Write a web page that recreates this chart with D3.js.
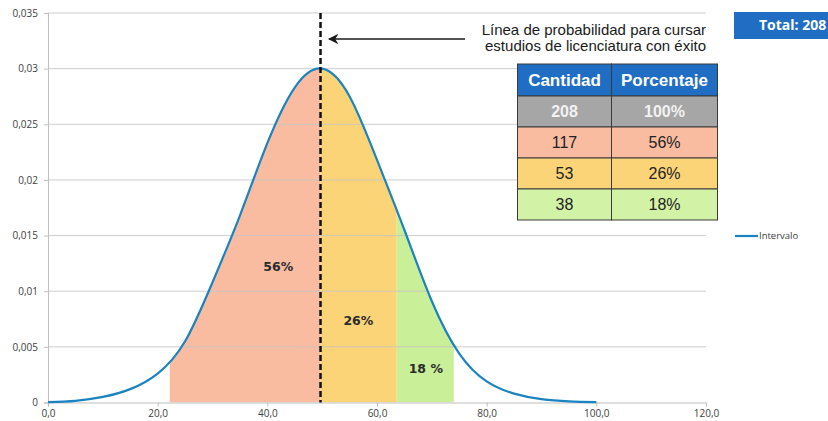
<!DOCTYPE html>
<html>
<head>
<meta charset="utf-8">
<script src="https://cdn.jsdelivr.net/npm/d3@7"></script>
<style>
  body { margin: 0; background: #fff; }
  svg { display: block; }
  .axis text { font-family: "Open Sans", sans-serif; font-size: 10px; fill: #404040; }
  .note { font-family: "Liberation Sans", Arial, sans-serif; font-size: 15px; fill: #1a1a1a; }
</style>
</head>
<body>
<div id="chart"></div>
<script>
// curve (x, density)
var xs      = [0, 5, 10, 15, 20, 25, 30, 35, 40, 45, 50, 55, 60, 65, 70, 75, 80, 85, 90, 95, 100]
var density = [0.00003, 0.00015, 0.0005, 0.0012, 0.0026, 0.0055, 0.0108, 0.0168, 0.0233, 0.0283, 0.0300,
               0.0275, 0.0218, 0.0155, 0.0091, 0.0044, 0.0019, 0.0008, 0.0003, 0.0001, 0.00003]

var probLine = 49.7
var bands = [
  {from: 22.2, to: 49.7, color: '#fabca0', label: '56%'},
  {from: 49.7, to: 63.6, color: '#fcd478', label: '26%'},
  {from: 63.6, to: 74.0, color: '#c9ef99', label: '18 %'}
]
// where the band labels sit, in data units
var labelAt = [[42.0, 0.0122], [56.6, 0.0074], [68.9, 0.0030]]

var xTicks = [0, 20, 40, 60, 80, 100, 120]
var yTicks = [0, 0.005, 0.01, 0.015, 0.02, 0.025, 0.03, 0.035]

var tableHead = ['Cantidad', 'Porcentaje']
var tableRows = [['208', '100%'], ['117', '56%'], ['53', '26%'], ['38', '18%']]
var rowColors = ['#a6a6a6', '#fabca0', '#fcd478', '#d2f2a6']

var es = d3.formatLocale({decimal: ',', thousands: '.', grouping: [3], currency: ['', '€']})

var W = 828, H = 421
var m = {left: 48, right: 122, top: 13, bottom: 18.5}
var svg = d3.select('#chart').append('svg').attr('width', W).attr('height', H)
var g = svg.append('g').attr('transform', 'translate(' + m.left + ',' + m.top + ')')
var w = W - m.left - m.right, h = H - m.top - m.bottom

var x = d3.scaleLinear().domain([0, 120]).range([0, w])
var y = d3.scaleLinear().domain([0, 0.035]).range([h, 0])

var pts = xs.map(function(d, i){ return [d, density[i]] })
var curve = d3.curveNatural
var line = d3.line().x(function(d){ return x(d[0]) }).y(function(d){ return y(d[1]) }).curve(curve)
var area = d3.area().x(function(d){ return x(d[0]) }).y0(h).y1(function(d){ return y(d[1]) }).curve(curve)

// shaded bands under the curve
bands.forEach(function(b, i){
  g.append('clipPath').attr('id', 'band' + i)
    .append('rect').attr('x', x(b.from)).attr('width', x(b.to) - x(b.from)).attr('y', 0).attr('height', h)
  g.append('path').attr('d', area(pts)).attr('fill', b.color).attr('clip-path', 'url(#band' + i + ')')
})

// gridlines over the fills
g.selectAll('.grid').data(yTicks.slice(1)).enter().append('line')
  .attr('x1', 0).attr('x2', w)
  .attr('y1', function(d){ return y(d) }).attr('y2', function(d){ return y(d) })
  .attr('stroke', '#c4c4c4').attr('stroke-opacity', 0.85).attr('stroke-width', 1)

var yAxis = g.append('g').attr('class', 'axis')
  .call(d3.axisLeft(y).tickValues(yTicks).tickSize(4).tickPadding(6).tickFormat(es.format(',.3~f')))
var xAxis = g.append('g').attr('class', 'axis').attr('transform', 'translate(0,' + h + ')')
  .call(d3.axisBottom(x).tickValues(xTicks).tickSize(4).tickPadding(3).tickFormat(es.format('.1f')))
g.selectAll('.axis .domain, .axis .tick line').attr('stroke', '#bfbfbf')

g.append('path').attr('d', line(pts)).attr('fill', 'none').attr('stroke', '#1b84c0').attr('stroke-width', 2.2)

bands.forEach(function(b, i){
  g.append('text').attr('x', x(labelAt[i][0])).attr('y', y(labelAt[i][1])).attr('dy', '0.35em')
    .attr('text-anchor', 'middle')
    .style('font-family', '"DejaVu Sans", sans-serif').style('font-size', '12.5px').style('font-weight', 'bold')
    .style('fill', '#2b2b2b').text(b.label)
})

// dashed probability line
g.append('line').attr('x1', x(probLine)).attr('x2', x(probLine)).attr('y1', 0).attr('y2', h)
  .attr('stroke', '#111').attr('stroke-width', 2.5).attr('stroke-dasharray', '6,3')

// arrow + note
svg.append('defs').append('marker').attr('id', 'head')
  .attr('viewBox', '0 0 10 10').attr('refX', 9).attr('refY', 5)
  .attr('markerWidth', 7).attr('markerHeight', 7).attr('orient', 'auto')
  .append('path').attr('d', 'M10,5L0,0L3,5L0,10Z').attr('fill', '#1a1a1a')
g.append('line').attr('x1', 417).attr('x2', 281).attr('y1', 26).attr('y2', 26)
  .attr('stroke', '#1a1a1a').attr('stroke-width', 1.5).attr('marker-end', 'url(#head)')
var note = g.append('text').attr('class', 'note').attr('text-anchor', 'end').attr('x', w)
note.append('tspan').attr('x', w).attr('y', 21.5).text('Línea de probabilidad para cursar')
note.append('tspan').attr('x', w).attr('y', 37.5).text('estudios de licenciatura con éxito')

// table
var tx = 517.5, tw = [94, 106], rh = [32, 31, 31, 31, 31], ty = 64
var tbl = svg.append('g')
var all = [tableHead].concat(tableRows)
var yy = ty
all.forEach(function(r, ri){
  var xx = tx
  r.forEach(function(c, ci){
    tbl.append('rect').attr('x', xx).attr('y', yy).attr('width', tw[ci]).attr('height', rh[ri])
      .attr('fill', ri == 0 ? '#1f6ec4' : rowColors[ri - 1]).attr('stroke', '#3a3a3a').attr('stroke-width', 1)
    tbl.append('text').attr('x', xx + tw[ci] / 2).attr('y', yy + rh[ri] / 2).attr('dy', '0.36em')
      .attr('text-anchor', 'middle')
      .style('font-family', '"Liberation Sans", Arial, sans-serif')
      .style('font-size', ri == 0 ? '17px' : '16px')
      .style('font-weight', ri < 2 ? 'bold' : 'normal')
      .style('fill', ri == 0 ? '#fff' : ri == 1 ? '#f2f2f2' : '#222')
      .text(c)
    xx += tw[ci]
  })
  yy += rh[ri]
})

// total box
svg.append('rect').attr('x', 734).attr('y', 12).attr('width', 100).attr('height', 27).attr('fill', '#1f6ec4')
svg.append('text').attr('x', 759).attr('y', 25.5).attr('dy', '0.35em')
  .style('font-family', '"Open Sans", sans-serif').style('font-size', '14px').style('font-weight', 'bold')
  .style('fill', '#fff').text('Total: 208')

// legend
svg.append('line').attr('x1', 735).attr('x2', 758).attr('y1', 236).attr('y2', 236)
  .attr('stroke', '#1b84c0').attr('stroke-width', 2.2)
svg.append('text').attr('x', 759).attr('y', 236).attr('dy', '0.35em')
  .style('font-family', '"Open Sans", sans-serif').style('font-size', '9.5px').style('fill', '#404040')
  .text('Intervalo')
</script>
</body>
</html>
